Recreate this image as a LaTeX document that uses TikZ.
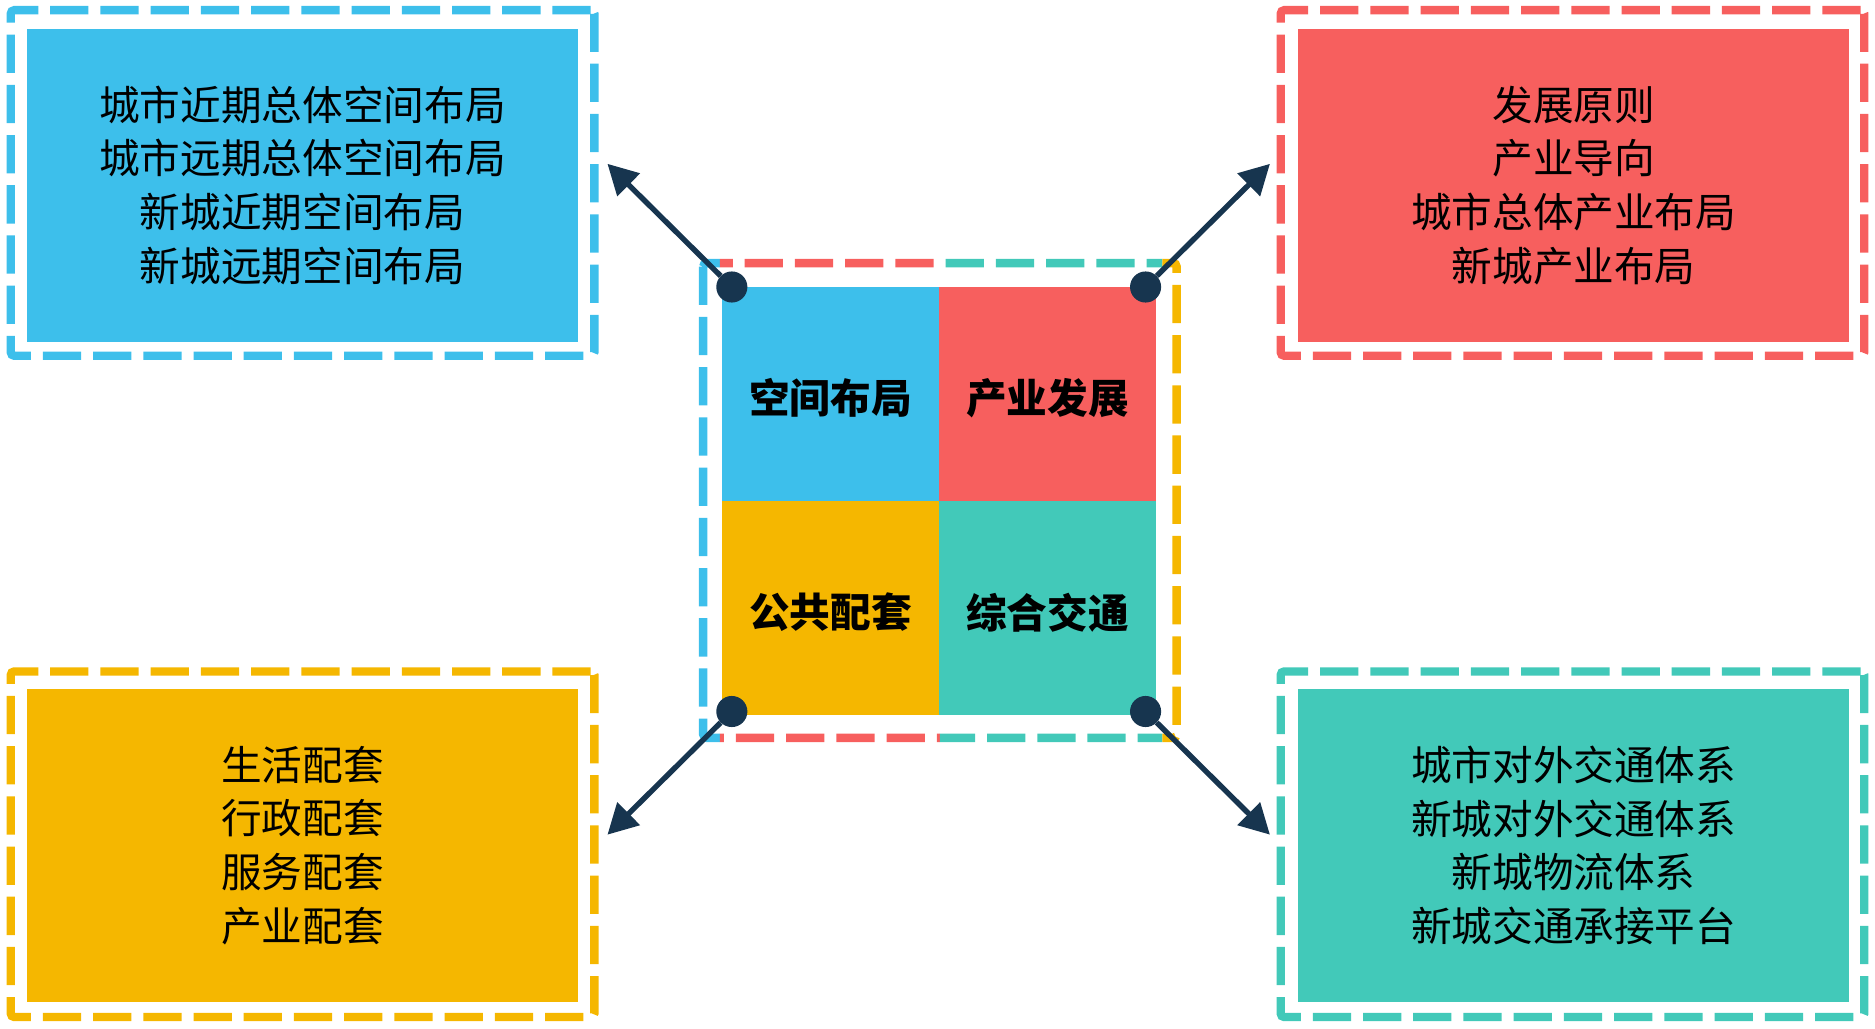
\documentclass[tikz,border=0pt]{standalone}
\usepackage{fontspec}
\newfontfamily\cjk{Noto Sans CJK SC}
\usetikzlibrary{arrows.meta}
\definecolor{cblue}{HTML}{3DBFEB}
\definecolor{cred}{HTML}{F75F5E}
\definecolor{cyellow}{HTML}{F5B700}
\definecolor{cteal}{HTML}{42C9B9}
\definecolor{cnavy}{HTML}{17354F}
\newcommand{\celltext}[1]{\raisebox{-3.5pt}[\height][\depth]{#1}}
\begin{document}
\begin{tikzpicture}
[x=1pt,y=-1pt,
  framedecorate/.style={line width=7pt,dash pattern=on 32pt off 10pt,rounded corners=3pt},%
  boxdecorate/.style={inner sep=0pt,minimum width=461pt,minimum height=262pt,align=center,font=\cjk\fontsize{34}{45}\selectfont},%
  outerdecorate/.style={framedecorate,inner sep=0pt,minimum width=488pt,minimum height=289pt},%
  celldecorate/.style={inner sep=0pt,minimum width=182pt,minimum height=179pt,font=\cjk\bfseries\fontsize{34}{40}\selectfont},%
  dotdecorate/.style={shape=circle,fill=cnavy,inner sep=0pt,minimum size=26pt},%
  arrowdecorate/.style={-{Triangle[length=25pt,width=26pt]},line width=4.5pt,draw=cnavy}]
\useasboundingbox (0,0) rectangle (1568,860);
% outer boxes
\node (spaceframe) at (253,153) [outerdecorate,draw=cblue] {};
\node (space) at (253,155) [boxdecorate,fill=cblue]
  {城市近期总体空间布局\\城市远期总体空间布局\\新城近期空间布局\\新城远期空间布局};
\node (indframe) at (1315,153) [outerdecorate,draw=cred] {};
\node (ind) at (1316,155) [boxdecorate,fill=cred]
  {发展原则\\产业导向\\城市总体产业布局\\新城产业布局};
\node (pubframe) at (253,706) [outerdecorate,draw=cyellow] {};
\node (pub) at (253,707) [boxdecorate,fill=cyellow]
  {生活配套\\行政配套\\服务配套\\产业配套};
\node (trafframe) at (1315,706) [outerdecorate,draw=cteal] {};
\node (traf) at (1316,707) [boxdecorate,fill=cteal]
  {城市对外交通体系\\新城对外交通体系\\新城物流体系\\新城交通承接平台};
% centre frame, one colour per part
\foreach \cl/\xa/\xb in {cblue/560/602,cred/602/786,cteal/786/972,cyellow/972/1010}
{
  \begin{scope}
    \clip (\xa,200) rectangle (\xb,640);
    \draw[framedecorate,draw=\cl] (588,220) rectangle (984,617);
  \end{scope}
}
% centre cells
\node (cspace) at (694.5,329.5) [celldecorate,fill=cblue] {\celltext{空间布局}};
\node (cind) at (876,329.5) [celldecorate,fill=cred] {\celltext{产业发展}};
\node (cpub) at (694.5,508.5) [celldecorate,fill=cyellow] {\celltext{公共配套}};
\node (ctraf) at (876,508.5) [celldecorate,fill=cteal] {\celltext{综合交通}};
% dots and arrow tips
\node (dspace) at (612,240) [dotdecorate] {};
\node (dind) at (958,240) [dotdecorate] {};
\node (dpub) at (612,595) [dotdecorate] {};
\node (dtraf) at (958,595) [dotdecorate] {};
\coordinate (tspace) at (508,137);
\coordinate (tind) at (1062,137);
\coordinate (tpub) at (508,698);
\coordinate (ttraf) at (1062,698);
% arrows
\path
(dspace) edge[arrowdecorate] (tspace)
(dind) edge[arrowdecorate] (tind)
(dpub) edge[arrowdecorate] (tpub)
(dtraf) edge[arrowdecorate] (ttraf);
\end{tikzpicture}
\end{document}
